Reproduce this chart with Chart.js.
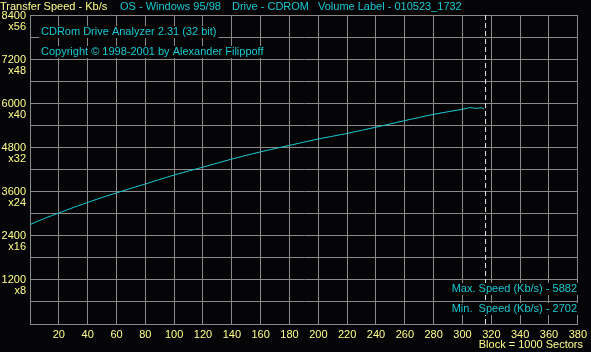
<!DOCTYPE html>
<html>
<head>
<meta charset="utf-8">
<script src="https://cdn.jsdelivr.net/npm/chart.js@4"></script>
<style>
  html, body { margin: 0; padding: 0; background: #050508; }
  canvas { display: block; }
</style>
</head>
<body>
<canvas id="speedChart" width="591" height="352"></canvas>
<script>
// block number (x 1000 sectors) vs transfer speed in Kb/s
const blocks = [0, 10, 20, 30, 40, 50, 60, 70, 80, 90, 100, 110, 120, 130, 140, 150,
  160, 170, 180, 190, 200, 210, 220, 230, 240, 250, 260, 270, 280, 290, 300, 305, 310, 313, 315];
const speeds = [2702, 2870, 3018, 3165, 3305, 3440, 3564, 3688, 3805, 3930, 4050, 4160,
  4264, 4375, 4485, 4585, 4680, 4770, 4855, 4945, 5030, 5105, 5180, 5265, 5350, 5440,
  5530, 5615, 5700, 5770, 5836, 5882, 5860, 5882, 5845];

const markerBlock = 316;
const xMax = 380;
const yMax = 8400;
const maxSpeed = 5882;
const minSpeed = 2702;

const YELLOW = "#ffff88";
const CYAN = "#18c8d0";
const GRID = "#8a8a8a";
const BG = "#050508";
const FONT = "11px 'Liberation Sans', Arial, sans-serif";

const overlay = {
  id: "overlay",
  beforeDraw(chart) {
    const c = chart.ctx;
    c.save();
    c.fillStyle = BG;
    c.fillRect(0, 0, chart.width, chart.height);
    c.restore();
  },
  afterDraw(chart) {
    const c = chart.ctx;
    c.save();
    c.font = FONT;
    c.textBaseline = "middle";

    // header line
    c.fillStyle = YELLOW;
    c.fillText("Transfer Speed - Kb/s", 0, 7);
    c.fillStyle = CYAN;
    c.fillText("OS - Windows 95/98", 120, 7);
    c.fillText("Drive - CDROM", 232, 7);
    c.fillText("Volume Label - 010523_1732", 318, 7);

    // boxed texts inside the plot
    const boxed = (txt, x, y, align) => {
      const w = c.measureText(txt).width;
      const left = align === "right" ? x - w : x;
      c.fillStyle = BG;
      c.fillRect(left - 2, y - 6, w + 4, 12);
      c.fillStyle = CYAN;
      c.textAlign = "left";
      c.fillText(txt, left, y);
    };
    boxed("CDRom Drive Analyzer 2.31 (32 bit)", 41, 32);
    boxed("Copyright \u00a9 1998-2001 by Alexander Filippoff", 41, 52);
    boxed("Max. Speed (Kb/s) - " + maxSpeed, 577, 289, "right");
    boxed("Min.  Speed (Kb/s) - " + minSpeed, 577, 309, "right");

    c.fillStyle = YELLOW;
    c.textAlign = "right";
    c.fillText("Block = 1000 Sectors", 583, 345);
    c.restore();
  }
};

new Chart(document.getElementById("speedChart"), {
  type: "line",
  data: {
    datasets: [
      {
        label: "Transfer speed",
        data: blocks.map((b, i) => ({ x: b, y: speeds[i] })),
        borderColor: CYAN,
        borderWidth: 1,
        pointRadius: 0,
        tension: 0
      },
      {
        label: "End",
        data: [{ x: markerBlock, y: 0 }, { x: markerBlock, y: yMax }],
        borderColor: "#e8e8e8",
        borderWidth: 1,
        borderDash: [5, 3],
        pointRadius: 0
      }
    ]
  },
  options: {
    responsive: false,
    animation: false,
    events: [],
    layout: { padding: { top: 15, right: 10, left: 0, bottom: 0 } },
    plugins: {
      legend: { display: false },
      tooltip: { enabled: false }
    },
    scales: {
      x: {
        type: "linear",
        min: 0,
        max: xMax,
        afterFit: (s) => { s.height = 28; },
        grid: { color: GRID, drawTicks: false },
        border: { color: GRID },
        ticks: {
          stepSize: 20,
          padding: 4,
          color: YELLOW,
          font: { family: "'Liberation Sans', Arial, sans-serif", size: 11 },
          maxRotation: 0,
          autoSkip: false,
          callback: (v) => (v === 0 ? "" : String(v))
        }
      },
      y: {
        min: 0,
        max: yMax,
        afterFit: (s) => { s.width = 30; },
        grid: { color: GRID, drawTicks: false },
        border: { color: GRID },
        ticks: {
          stepSize: 600,
          padding: 4,
          labelOffset: 6,
          color: YELLOW,
          font: { family: "'Liberation Sans', Arial, sans-serif", size: 11, lineHeight: 1 },
          autoSkip: false,
          callback: (v) => (v > 0 && v % 1200 === 0 ? [String(v), "x" + v / 150] : "")
        }
      }
    }
  },
  plugins: [overlay]
});
</script>
</body>
</html>
